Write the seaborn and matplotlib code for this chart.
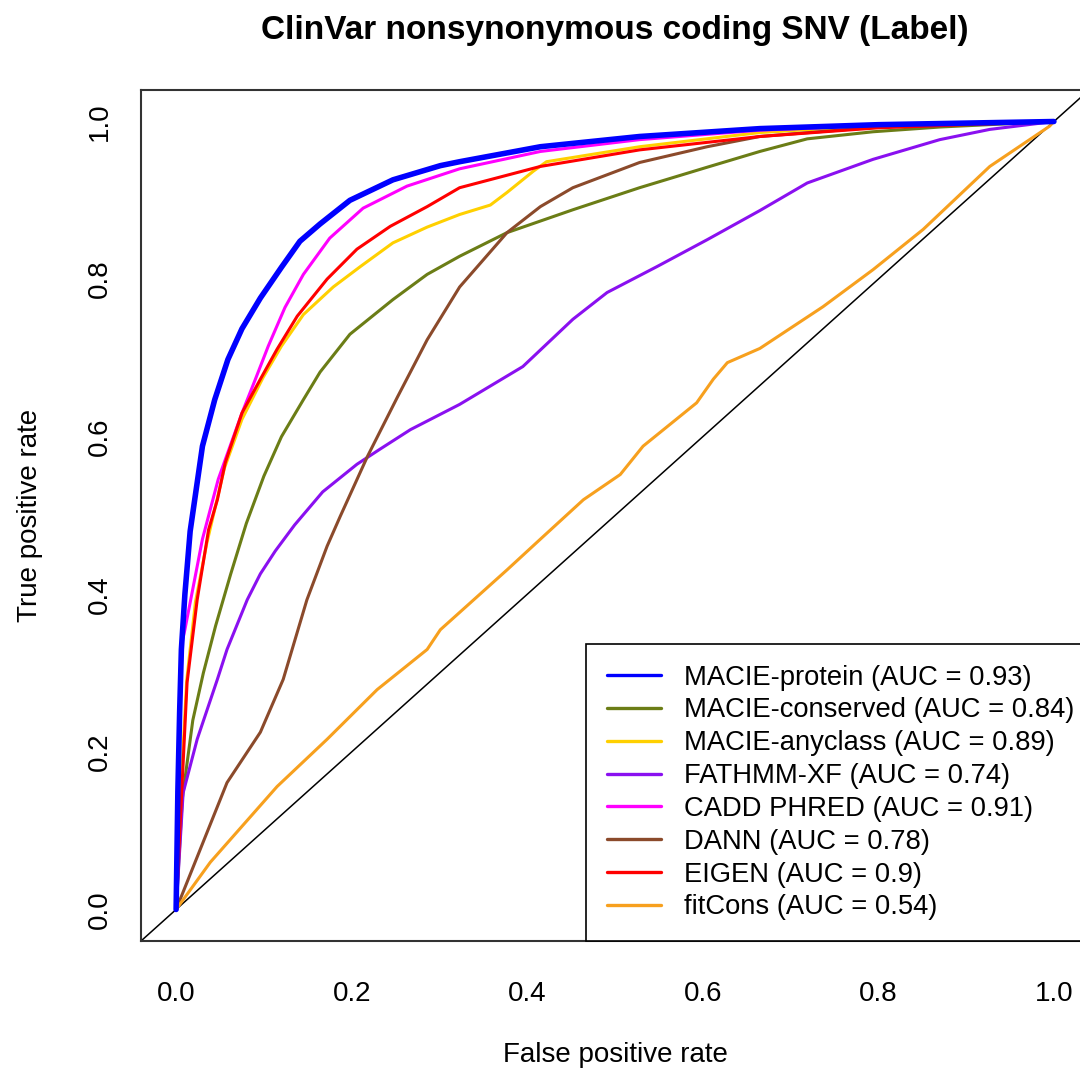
import numpy as np
import pandas as pd
import matplotlib
matplotlib.use("Agg")
import matplotlib.pyplot as plt
import seaborn as sns

# ROC curves (false positive rate, true positive rate)
macie_protein_fpr = [0.0, 0.002, 0.004, 0.006, 0.010, 0.016, 0.030, 0.044, 0.059, 0.075, 0.096, 0.120, 0.141, 0.164, 0.198, 0.247, 0.301, 0.323, 0.415, 0.528, 0.665, 0.800, 1.0]
macie_protein_tpr = [0.0, 0.150, 0.250, 0.330, 0.400, 0.480, 0.588, 0.647, 0.698, 0.737, 0.776, 0.815, 0.848, 0.870, 0.900, 0.926, 0.944, 0.949, 0.968, 0.981, 0.991, 0.996, 1.0]

macie_conserved_fpr = [0.0, 0.007, 0.019, 0.031, 0.045, 0.062, 0.080, 0.100, 0.120, 0.145, 0.164, 0.198, 0.247, 0.286, 0.323, 0.377, 0.452, 0.528, 0.605, 0.665, 0.719, 0.794, 0.870, 1.0]
macie_conserved_tpr = [0.0, 0.140, 0.240, 0.300, 0.360, 0.425, 0.490, 0.550, 0.600, 0.647, 0.682, 0.730, 0.774, 0.806, 0.829, 0.859, 0.888, 0.916, 0.942, 0.962, 0.978, 0.987, 0.993, 1.0]

macie_anyclass_fpr = [0.0, 0.004, 0.012, 0.022, 0.035, 0.055, 0.075, 0.099, 0.120, 0.145, 0.179, 0.210, 0.247, 0.286, 0.323, 0.358, 0.377, 0.407, 0.422, 0.528, 0.665, 0.800, 1.0]
macie_anyclass_tpr = [0.0, 0.120, 0.290, 0.390, 0.465, 0.560, 0.622, 0.675, 0.715, 0.755, 0.790, 0.816, 0.846, 0.866, 0.882, 0.894, 0.910, 0.937, 0.949, 0.968, 0.986, 0.995, 1.0]

fathmm_fpr = [0.0, 0.008, 0.024, 0.047, 0.058, 0.081, 0.096, 0.113, 0.135, 0.167, 0.206, 0.232, 0.267, 0.323, 0.395, 0.452, 0.491, 0.548, 0.605, 0.665, 0.719, 0.794, 0.870, 0.927, 1.0]
fathmm_tpr = [0.0, 0.148, 0.216, 0.292, 0.330, 0.393, 0.426, 0.455, 0.488, 0.530, 0.565, 0.584, 0.609, 0.641, 0.689, 0.749, 0.783, 0.816, 0.850, 0.887, 0.922, 0.952, 0.977, 0.990, 1.0]

cadd_fpr = [0.0, 0.003, 0.007, 0.010, 0.030, 0.048, 0.075, 0.090, 0.105, 0.124, 0.145, 0.175, 0.213, 0.263, 0.323, 0.415, 0.528, 0.665, 0.800, 1.0]
cadd_tpr = [0.0, 0.200, 0.340, 0.355, 0.470, 0.546, 0.630, 0.672, 0.715, 0.764, 0.806, 0.852, 0.890, 0.918, 0.940, 0.962, 0.977, 0.989, 0.995, 1.0]

dann_fpr = [0.0, 0.058, 0.096, 0.122, 0.149, 0.172, 0.187, 0.218, 0.252, 0.286, 0.323, 0.377, 0.415, 0.452, 0.528, 0.605, 0.665, 0.800, 1.0]
dann_tpr = [0.0, 0.161, 0.225, 0.292, 0.393, 0.461, 0.499, 0.575, 0.650, 0.723, 0.790, 0.859, 0.892, 0.916, 0.948, 0.968, 0.981, 0.993, 1.0]

eigen_fpr = [0.0, 0.005, 0.0125, 0.024, 0.037, 0.047, 0.056, 0.075, 0.096, 0.115, 0.138, 0.172, 0.206, 0.244, 0.286, 0.323, 0.415, 0.528, 0.665, 0.800, 1.0]
eigen_tpr = [0.0, 0.118, 0.288, 0.393, 0.482, 0.520, 0.567, 0.630, 0.673, 0.711, 0.753, 0.800, 0.838, 0.867, 0.892, 0.916, 0.943, 0.964, 0.981, 0.992, 1.0]

fitcons_fpr = [0.0, 0.039, 0.115, 0.172, 0.229, 0.286, 0.301, 0.377, 0.415, 0.464, 0.506, 0.532, 0.593, 0.612, 0.628, 0.665, 0.737, 0.794, 0.851, 0.927, 0.995, 1.0]
fitcons_tpr = [0.0, 0.060, 0.156, 0.216, 0.279, 0.330, 0.355, 0.431, 0.470, 0.520, 0.552, 0.588, 0.643, 0.673, 0.694, 0.712, 0.765, 0.812, 0.863, 0.943, 0.994, 1.0]

labels = ["MACIE-protein (AUC = 0.93)", "MACIE-conserved (AUC = 0.84)", "MACIE-anyclass (AUC = 0.89)",
          "FATHMM-XF (AUC = 0.74)", "CADD PHRED (AUC = 0.91)", "DANN (AUC = 0.78)",
          "EIGEN (AUC = 0.9)", "fitCons (AUC = 0.54)"]
colors = ["#0000FF", "#6B7D16", "#FFD000", "#8A10F0", "#FF00FF", "#8B4A2B", "#FF0000", "#F7A01E"]
curves = [(macie_protein_fpr, macie_protein_tpr), (macie_conserved_fpr, macie_conserved_tpr),
          (macie_anyclass_fpr, macie_anyclass_tpr), (fathmm_fpr, fathmm_tpr), (cadd_fpr, cadd_tpr),
          (dann_fpr, dann_tpr), (eigen_fpr, eigen_tpr), (fitcons_fpr, fitcons_tpr)]
ticks = [0.0, 0.2, 0.4, 0.6, 0.8, 1.0]
tick_labels = ["0.0", "0.2", "0.4", "0.6", "0.8", "1.0"]

sns.set_style("white")
plt.rcParams['font.family'] = ['Liberation Sans', 'DejaVu Sans']
plt.rcParams['text.color'] = 'black'
plt.rcParams['axes.labelcolor'] = 'black'

fig = plt.figure(figsize=(10.8, 10.74), dpi=100)
ax = fig.add_axes([141 / 1080, 133 / 1074, 948 / 1080, 851 / 1074])

# diagonal reference
ax.axline((0, 0), (1, 1), color='black', linewidth=1.1, zorder=1)

# blue drawn last so it sits on top, legend keeps the original order
order = [1, 2, 3, 4, 5, 6, 7, 0]
for i in order:
    fpr, tpr = curves[i]
    df = pd.DataFrame({'fpr': fpr, 'tpr': tpr})
    sns.lineplot(data=df, x='fpr', y='tpr', color=colors[i], sort=False, estimator=None,
                 linewidth=4.0 if i == 0 else 2.2, ax=ax, zorder=3 if i == 0 else 2)

handles = [plt.Line2D([], [], color=c, linewidth=2.4) for c in colors]
leg = ax.legend(handles, labels, loc='lower left', bbox_to_anchor=(445 / 948, 0), borderaxespad=0,
                fontsize=19.7, frameon=True, fancybox=False, edgecolor='black', framealpha=1,
                handlelength=2.0, handletextpad=0.85, labelspacing=0.25, borderpad=0.75)
leg.get_frame().set_linewidth(1.2)
for t in leg.get_texts():
    t.set_color('black')

ax.set_xlim(-0.04, 1.04)
ax.set_ylim(-0.04, 1.04)
ax.set_xticks(ticks)
ax.set_xticklabels(tick_labels)
ax.set_yticks(ticks)
ax.set_yticklabels(tick_labels, rotation=90, va='center')
ax.tick_params(axis='both', direction='out', length=13, width=1.2, labelsize=20,
               colors='black', labelcolor='black')
ax.tick_params(axis='x', pad=16)
ax.tick_params(axis='y', pad=7)
for s in ax.spines.values():
    s.set_color('#333333')
    s.set_linewidth(1.5)

ax.set_xlabel('False positive rate', fontsize=20)
ax.xaxis.set_label_coords(0.5, -(1055 - 941) / 851)
ax.xaxis.label.set_va('center')
ax.set_ylabel('True positive rate', fontsize=20)
ax.yaxis.set_label_coords((30 - 141) / 948, 0.5)
ax.yaxis.label.set_va('center')
ax.set_title('ClinVar nonsynonymous coding SNV (Label)', fontsize=24, fontweight='bold',
             y=(941 - 30) / 851, va='center', pad=0, color='black')

plt.savefig('out.png', dpi=100)
plt.close()
